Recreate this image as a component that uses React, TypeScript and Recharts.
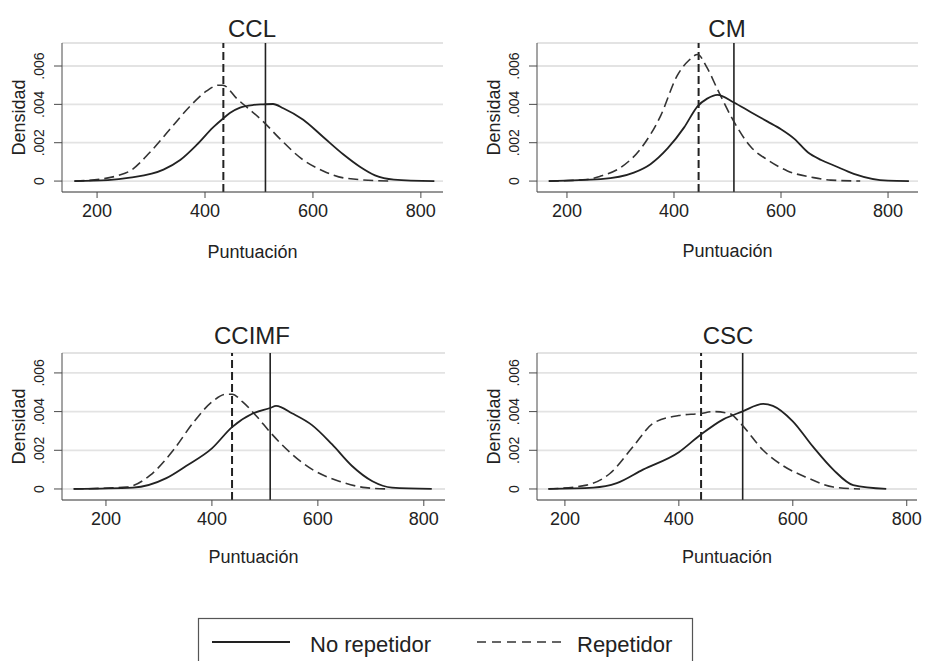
import React from 'react';
import { LineChart, Line, XAxis, YAxis, CartesianGrid, ReferenceLine } from 'recharts';

// Kernel density estimates (score, density)
const cclNoRepX = [158, 220, 261, 323, 354, 385, 415, 431, 446, 465, 490, 508, 526, 545, 582, 619, 656, 687, 715, 750, 825];
const cclNoRepY = [0, 0.00005, 0.00018, 0.0006, 0.0011, 0.0019, 0.0028, 0.0032, 0.00355, 0.00383, 0.00397, 0.004, 0.00402, 0.0038, 0.0032, 0.0023, 0.0014, 0.00075, 0.0003, 0.00008, 0];
const cclRepX = [158, 207, 240, 261, 298, 335, 372, 403, 425, 433, 459, 508, 539, 582, 619, 660, 740];
const cclRepY = [0, 0.0001, 0.0003, 0.00053, 0.0015, 0.0027, 0.0039, 0.0047, 0.005, 0.005, 0.0043, 0.0031, 0.0022, 0.0011, 0.00053, 0.00015, 0];

const cmNoRepX = [166, 263, 325, 356, 388, 419, 444, 462, 481, 512, 543, 575, 600, 625, 650, 675, 700, 736, 800, 839];
const cmNoRepY = [0, 0.0001, 0.00044, 0.00088, 0.0017, 0.0028, 0.0039, 0.0043, 0.0045, 0.0041, 0.0036, 0.0031, 0.0027, 0.0022, 0.0015, 0.0011, 0.0008, 0.00038, 0.00002, 0];
const cmRepX = [166, 237, 263, 300, 338, 375, 406, 428, 444, 462, 481, 512, 543, 575, 612, 661, 693, 748];
const cmRepY = [0, 0.00008, 0.00026, 0.0007, 0.0017, 0.0034, 0.0055, 0.0063, 0.0066, 0.0059, 0.0048, 0.0031, 0.0018, 0.0011, 0.00053, 0.00018, 0.00005, 0];

const ccimfNoRepX = [139, 251, 314, 352, 400, 438, 477, 511, 521, 552, 589, 627, 664, 703, 740, 815];
const ccimfNoRepY = [0, 0.00007, 0.00056, 0.0012, 0.0021, 0.0032, 0.0039, 0.0042, 0.0043, 0.0039, 0.0033, 0.0023, 0.0012, 0.0004, 0.00007, 0];
const ccimfRepX = [139, 239, 283, 327, 364, 400, 427, 438, 458, 483, 511, 547, 590, 640, 690, 734];
const ccimfRepY = [0, 0.0001, 0.0007, 0.002, 0.0034, 0.0045, 0.0049, 0.0049, 0.0045, 0.0038, 0.0029, 0.0019, 0.001, 0.0004, 0.00007, 0];

const cscNoRepX = [171, 250, 291, 337, 400, 438, 478, 511, 548, 565, 600, 635, 671, 706, 764];
const cscNoRepY = [0, 0.00007, 0.0003, 0.001, 0.0019, 0.0028, 0.0036, 0.004, 0.0044, 0.0043, 0.0035, 0.0022, 0.001, 0.0002, 0];
const cscRepX = [171, 238, 279, 320, 355, 400, 438, 460, 489, 511, 548, 583, 624, 671, 718];
const cscRepY = [0, 0.0002, 0.0008, 0.0022, 0.0034, 0.0038, 0.0039, 0.004, 0.0039, 0.0033, 0.002, 0.0012, 0.0006, 0.0001, 0];

// means (vertical lines)
const meanNoRep = [512, 512, 510, 512];
const meanRep = [434, 446, 438, 439];

const titles = ['CCL', 'CM', 'CCIMF', 'CSC'];
const xTicks = [200, 400, 600, 800];
const yTicks = [0, 0.002, 0.004, 0.006];

const FONT = '"Liberation Sans", Arial, Helvetica, sans-serif';
const INK = '#222';
const AXIS = '#4a4a4a';

const toPoints = (xs: number[], ys: number[]) => xs.map((x, i) => ({ x, d: ys[i] }));
const fmtY = (v: number) => (v === 0 ? '0' : v.toFixed(3).replace(/^0/, ''));

const panels = [
  { left: 0, top: 0, w: 460, plotLeft: 62, plotRight: 443, plotTop: 43, plotBottom: 192, xDomain: [135, 841], yDomain: [-0.00057, 0.0072], labelBase: 258, noRep: toPoints(cclNoRepX, cclNoRepY), rep: toPoints(cclRepX, cclRepY) },
  { left: 460, top: 0, w: 465, plotLeft: 77, plotRight: 458, plotTop: 43, plotBottom: 192, xDomain: [144, 856], yDomain: [-0.00057, 0.0072], labelBase: 257, noRep: toPoints(cmNoRepX, cmNoRepY), rep: toPoints(cmRepX, cmRepY) },
  { left: 0, top: 300, w: 460, plotLeft: 62, plotRight: 445, plotTop: 53, plotBottom: 200, xDomain: [117, 840], yDomain: [-0.00057, 0.00703], labelBase: 263, noRep: toPoints(ccimfNoRepX, ccimfNoRepY), rep: toPoints(ccimfRepX, ccimfRepY) },
  { left: 460, top: 300, w: 465, plotLeft: 77, plotRight: 457, plotTop: 53, plotBottom: 200, xDomain: [151, 818], yDomain: [-0.00057, 0.00703], labelBase: 263, noRep: toPoints(cscNoRepX, cscNoRepY), rep: toPoints(cscRepX, cscRepY) },
];

const titlePos = [
  [252, 37],
  [727, 37],
  [252, 344],
  [728, 344],
];

const H = 280;

const DensityPanel = ({ p, i }: { p: any; i: number }) => {
  const tickX = p.plotLeft - 23;
  return (
    <div style={{ position: 'absolute', left: p.left, top: p.top, width: p.w, height: H }}>
      <LineChart width={p.w} height={H} margin={{ top: p.plotTop, right: p.w - p.plotRight, left: 0, bottom: 0 }}>
        <CartesianGrid vertical={false} stroke="#e3e3e3" strokeWidth={1.8} />
        <XAxis
          type="number"
          dataKey="x"
          domain={p.xDomain}
          ticks={xTicks}
          allowDataOverflow
          height={H - p.plotBottom}
          tickSize={6}
          tickMargin={6}
          stroke={AXIS}
          tick={{ fontSize: 18, fill: INK, fontFamily: FONT }}
          label={{ value: 'Puntuación', position: 'insideBottom', offset: H - p.labelBase, style: { fontSize: 18, fill: INK, fontFamily: FONT } }}
        />
        <YAxis
          type="number"
          domain={p.yDomain}
          ticks={yTicks}
          allowDataOverflow
          width={p.plotLeft}
          tickSize={8}
          stroke={AXIS}
          tick={(t: any) => (
            <text
              x={tickX}
              y={t.y}
              transform={`rotate(-90, ${tickX}, ${t.y})`}
              textAnchor="middle"
              dominantBaseline="central"
              fontSize={14}
              fill={INK}
              fontFamily={FONT}
            >
              {fmtY(t.payload.value)}
            </text>
          )}
          label={{ value: 'Densidad', angle: -90, position: 'insideLeft', offset: p.plotLeft - 43, style: { fontSize: 18, fill: INK, fontFamily: FONT, textAnchor: 'middle' } }}
        />
        <ReferenceLine x={meanRep[i]} stroke={INK} strokeWidth={2} strokeDasharray="8 4" />
        <ReferenceLine x={meanNoRep[i]} stroke={INK} strokeWidth={1.6} />
        <Line data={p.rep} dataKey="d" type="monotone" stroke="#333" strokeWidth={1.6} strokeDasharray="10 5" dot={false} isAnimationActive={false} />
        <Line data={p.noRep} dataKey="d" type="monotone" stroke={INK} strokeWidth={1.8} dot={false} isAnimationActive={false} />
      </LineChart>
    </div>
  );
};

export default function App() {
  return (
    <div style={{ position: 'absolute', left: 0, top: 0, width: 925, height: 661, background: '#fff', overflow: 'hidden', fontFamily: FONT }}>
      {panels.map((p, i) => (
        <DensityPanel key={titles[i]} p={p} i={i} />
      ))}
      <svg width={925} height={661} style={{ position: 'absolute', left: 0, top: 0, pointerEvents: 'none' }}>
        {titles.map((t, i) => (
          <text key={t} x={titlePos[i][0]} y={titlePos[i][1]} textAnchor="middle" fontSize={24} fill={INK} fontFamily={FONT}>
            {t}
          </text>
        ))}
        <rect x={198.5} y={618.5} width={494} height={60} fill="none" stroke="#555" strokeWidth={1.2} />
        <line x1={212} x2={290} y1={642} y2={642} stroke={INK} strokeWidth={1.8} />
        <text x={310} y={652} fontSize={22} fill={INK} fontFamily={FONT}>No repetidor</text>
        <line x1={477} x2={562} y1={642} y2={642} stroke="#333" strokeWidth={1.6} strokeDasharray="9 6" />
        <text x={577} y={652} fontSize={22} fill={INK} fontFamily={FONT}>Repetidor</text>
      </svg>
    </div>
  );
}
